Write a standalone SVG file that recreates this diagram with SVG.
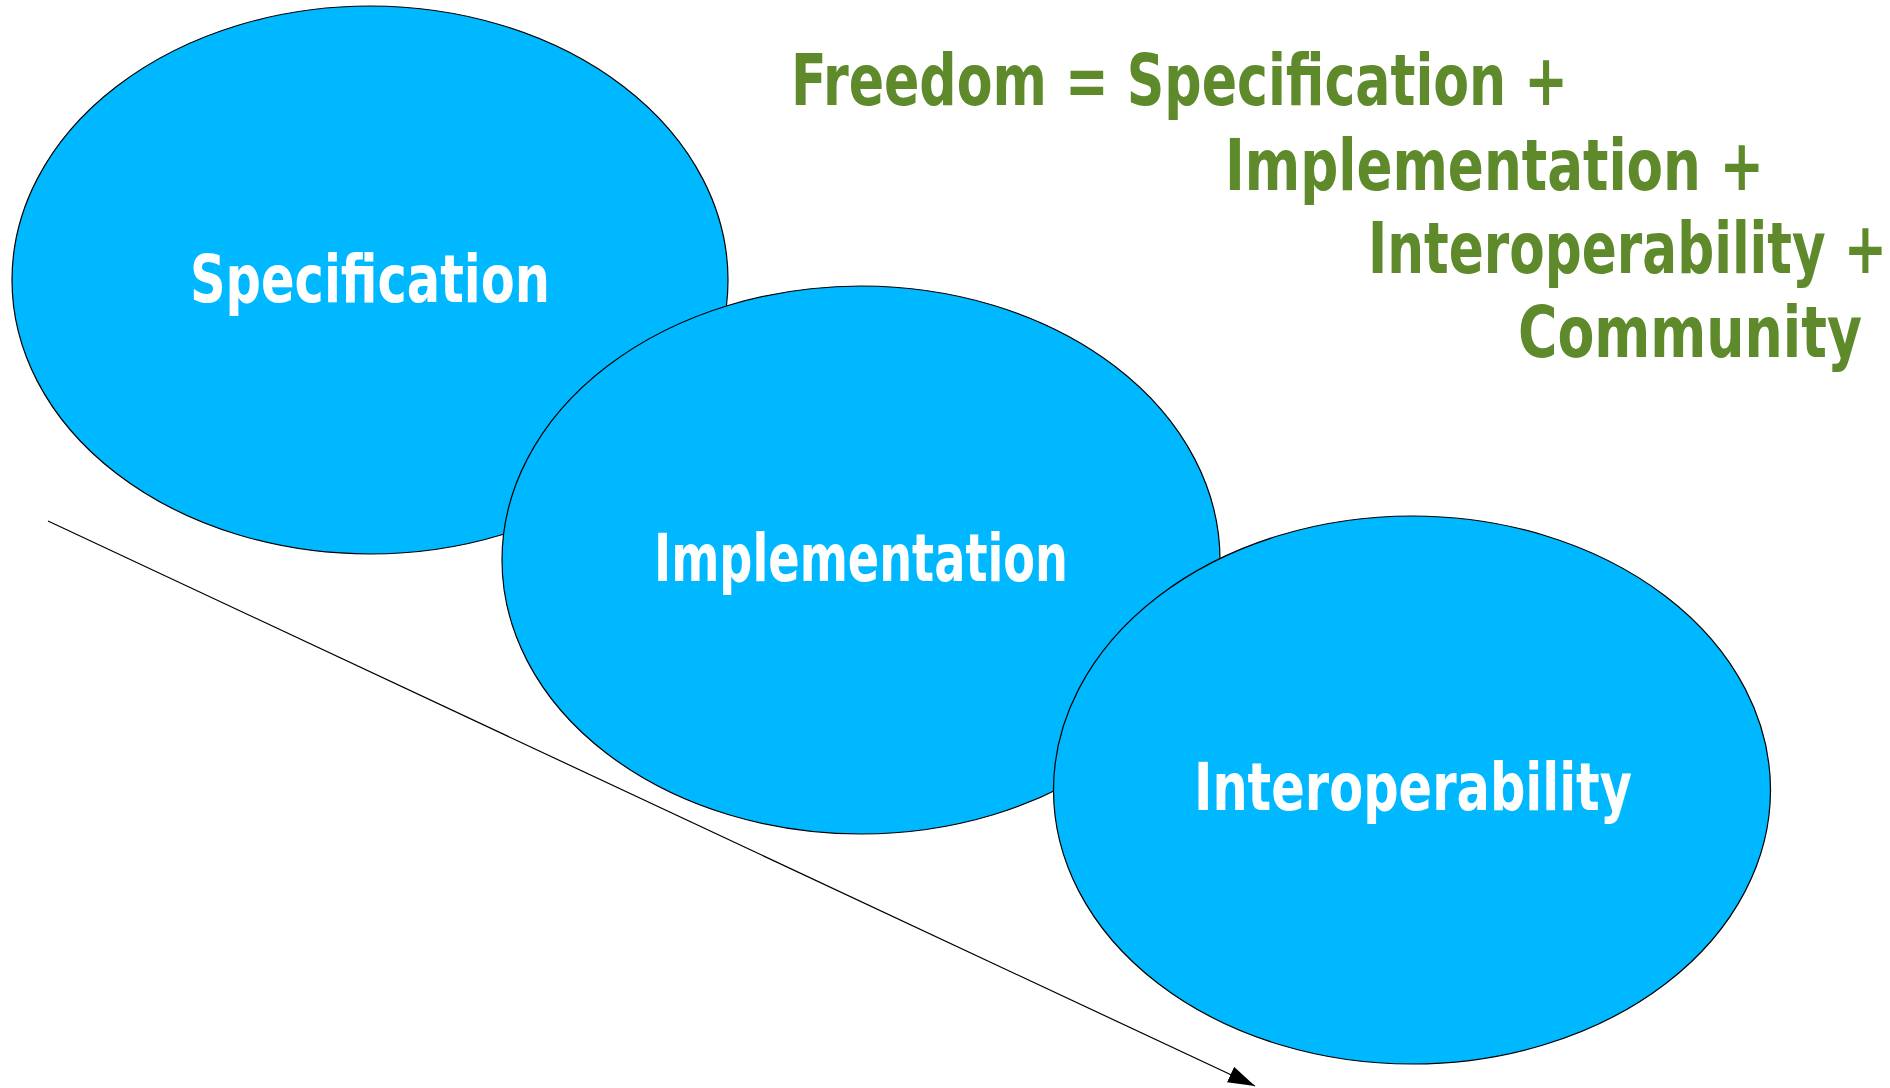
<svg xmlns="http://www.w3.org/2000/svg" width="1890" height="1088" viewBox="0 0 1890 1088">
<style>
.node{fill:#00b8ff;stroke:#000;stroke-width:1.2}
.lbl{fill:#fff;font-family:"Liberation Sans Narrow","DejaVu Sans Condensed","Liberation Sans",sans-serif;font-weight:bold;font-size:66px;text-anchor:middle}
.ttl{fill:#5e8a2b;font-family:"Liberation Sans Narrow","DejaVu Sans Condensed","Liberation Sans",sans-serif;font-weight:bold;font-size:71px;text-anchor:end}
.conn{stroke:#000;stroke-width:1.2;fill:none}
</style>
<defs>
<marker id="ah" markerUnits="userSpaceOnUse" viewBox="0 0 27 17" markerWidth="27" markerHeight="17" refX="27" refY="8.5" orient="auto">
<path d="M0,0 L27,8.5 L0,17 z" fill="#000"/>
</marker>
</defs>
<g id="connectors">
<line class="conn" x1="48" y1="521" x2="1255" y2="1086" marker-end="url(#ah)"/>
</g>
<g id="node-specification">
<ellipse class="node" cx="370" cy="280" rx="358" ry="274"/>
<text class="lbl" x="370" y="302" textLength="360" lengthAdjust="spacingAndGlyphs">Specification</text>
</g>
<g id="node-implementation">
<ellipse class="node" cx="861" cy="560" rx="359" ry="274"/>
<text class="lbl" x="861" y="581" textLength="414" lengthAdjust="spacingAndGlyphs">Implementation</text>
</g>
<g id="node-interoperability">
<ellipse class="node" cx="1412" cy="790" rx="358.5" ry="274"/>
<text class="lbl" x="1413" y="810" textLength="438" lengthAdjust="spacingAndGlyphs">Interoperability</text>
</g>
<g id="title">
<text class="ttl" x="1568" y="105" textLength="777" lengthAdjust="spacingAndGlyphs">Freedom = Specification +</text>
<text class="ttl" x="1764" y="190" textLength="539" lengthAdjust="spacingAndGlyphs">Implementation +</text>
<text class="ttl" x="1887" y="273" textLength="519" lengthAdjust="spacingAndGlyphs">Interoperability +</text>
<text class="ttl" x="1862" y="357" textLength="344" lengthAdjust="spacingAndGlyphs">Community</text>
</g>
</svg>
